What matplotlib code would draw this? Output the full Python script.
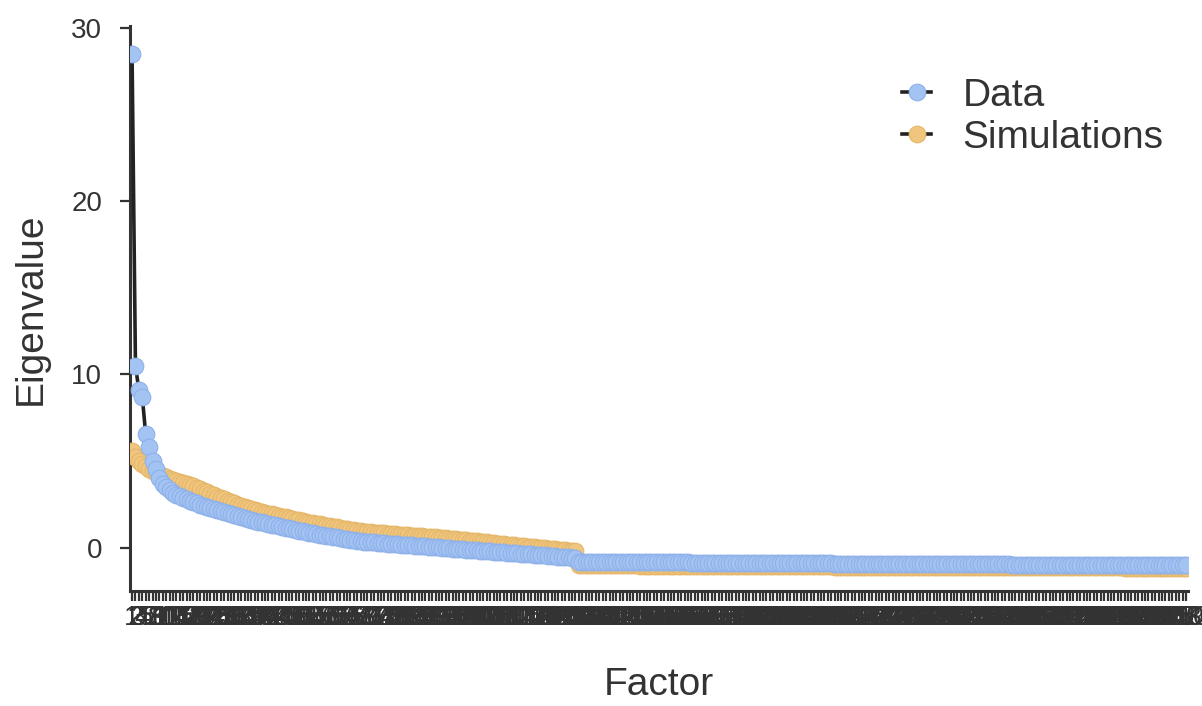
import matplotlib
matplotlib.use("Agg")
import matplotlib.pyplot as plt
from matplotlib.lines import Line2D

plt.rcParams['font.family'] = ['Liberation Sans', 'DejaVu Sans']

# Eigenvalues of the observed data (factors 1..310)
data_eigen = [
    28.5, 10.5, 9.1, 8.7, 6.55, 5.8, 5.0, 4.55, 4.0, 3.7,
    3.48, 3.32, 3.18, 3.06, 2.96, 2.87, 2.79, 2.71, 2.63, 2.56,
    2.49, 2.42, 2.36, 2.29, 2.23, 2.17, 2.11, 2.05, 1.99, 1.93,
    1.87, 1.82, 1.76, 1.71, 1.66, 1.61, 1.56,
    1.51, 1.46, 1.42, 1.37, 1.33, 1.28, 1.24, 1.19, 1.15, 1.11,
    1.07, 1.03, 0.99, 0.95, 0.91,
    0.87, 0.84, 0.80, 0.76, 0.73, 0.69, 0.66, 0.62, 0.59, 0.55,
    0.52, 0.49, 0.45, 0.42, 0.39,
    0.37, 0.35, 0.34, 0.32, 0.30, 0.29, 0.27, 0.25, 0.24, 0.22,
    0.21, 0.19, 0.18, 0.16, 0.15, 0.13, 0.12, 0.10, 0.09, 0.07,
    0.06, 0.04, 0.03, 0.01, 0.00, -0.02, -0.03,
    -0.05, -0.06, -0.08, -0.09, -0.11, -0.12, -0.14, -0.15, -0.17, -0.18,
    -0.20, -0.21, -0.23, -0.24, -0.26, -0.27, -0.29, -0.30, -0.32, -0.33,
    -0.35, -0.36, -0.38, -0.39, -0.41, -0.42, -0.44, -0.45, -0.47, -0.48,
    -0.50, -0.51, -0.53, -0.54, -0.56, -0.57, -0.59,
    -0.80, -0.80, -0.80, -0.81, -0.81, -0.81, -0.81, -0.81, -0.82, -0.82,
    -0.82, -0.82, -0.82, -0.82, -0.83, -0.83, -0.83, -0.83, -0.83, -0.83,
    -0.84, -0.84, -0.84, -0.84, -0.84, -0.84, -0.85, -0.85, -0.85, -0.85,
    -0.85, -0.85, -0.85, -0.86, -0.86, -0.86, -0.86, -0.86, -0.86, -0.86,
    -0.87, -0.87, -0.87, -0.87, -0.87, -0.87, -0.87, -0.88, -0.88, -0.88,
    -0.88, -0.88, -0.88, -0.88, -0.89, -0.89, -0.89, -0.89, -0.89, -0.89,
    -0.89, -0.90, -0.90, -0.90, -0.90, -0.90, -0.90, -0.90, -0.91, -0.91,
    -0.91, -0.91, -0.91, -0.91, -0.91, -0.92, -0.92, -0.92, -0.92, -0.92,
    -0.92, -0.92, -0.92, -0.93, -0.93, -0.93, -0.93, -0.93, -0.93, -0.93,
    -0.93, -0.94, -0.94, -0.94, -0.94, -0.94, -0.94, -0.94, -0.94, -0.95,
    -0.95, -0.95, -0.95, -0.95, -0.95, -0.95, -0.95, -0.95, -0.96, -0.96,
    -0.96, -0.96, -0.96, -0.96, -0.96, -0.96, -0.96, -0.97, -0.97, -0.97,
    -0.97, -0.97, -0.97, -0.97, -0.97, -0.97, -0.97, -0.98, -0.98, -0.98,
    -0.98, -0.98, -0.98, -0.98, -0.98, -0.98, -0.98, -0.98, -0.99, -0.99,
    -0.99, -0.99, -0.99, -0.99, -0.99, -0.99, -0.99, -0.99, -0.99, -0.99,
    -1.00, -1.00, -1.00, -1.00, -1.00, -1.00, -1.00, -1.00, -1.00, -1.00,
    -1.00, -1.00, -1.00, -1.00, -1.00, -1.00, -1.00, -1.00, -1.00, -1.00,
    -1.00, -1.00, -1.00, -1.00, -1.00, -1.00, -1.00, -1.00, -1.00,
]

# Mean eigenvalues of the simulated (parallel analysis) data
sim_eigen = [
    5.6, 5.25, 5.0, 4.85, 4.7, 4.55, 4.45, 4.35, 4.25, 4.15,
    4.07, 3.99, 3.92, 3.85, 3.78, 3.71, 3.65, 3.59, 3.53, 3.47,
    3.37, 3.28, 3.20, 3.11, 3.03, 2.95, 2.87, 2.79, 2.71, 2.63,
    2.55, 2.48, 2.41, 2.35, 2.29, 2.23, 2.17,
    2.11, 2.06, 2.02, 1.97, 1.93, 1.88, 1.84, 1.79, 1.75, 1.70,
    1.66, 1.62, 1.58, 1.54, 1.50,
    1.45, 1.42, 1.38, 1.34, 1.31, 1.27, 1.24, 1.20, 1.17, 1.13,
    1.10, 1.07, 1.03, 1.00, 0.97,
    0.94, 0.92, 0.91, 0.89, 0.87, 0.86, 0.84, 0.82, 0.81, 0.79,
    0.78, 0.76, 0.74, 0.72, 0.71, 0.69, 0.68, 0.66, 0.65, 0.63,
    0.62, 0.60, 0.59, 0.57, 0.56, 0.54, 0.52,
    0.50, 0.48, 0.46, 0.44, 0.42, 0.40, 0.38, 0.36, 0.34, 0.32,
    0.30, 0.28, 0.26, 0.24, 0.22, 0.20, 0.18, 0.16, 0.14, 0.12,
    0.10, 0.08, 0.06, 0.04, 0.02, 0.00, -0.02, -0.04, -0.06, -0.08,
    -0.10, -0.12, -0.14, -0.16, -0.18, -0.20, -0.22,
    -1.00, -1.00, -1.00, -1.01, -1.01, -1.01, -1.01, -1.01, -1.01, -1.01,
    -1.02, -1.02, -1.02, -1.02, -1.02, -1.02, -1.02, -1.02, -1.03, -1.03,
    -1.03, -1.03, -1.03, -1.03, -1.03, -1.03, -1.04, -1.04, -1.04, -1.04,
    -1.04, -1.04, -1.04, -1.04, -1.04, -1.05, -1.05, -1.05, -1.05, -1.05,
    -1.05, -1.05, -1.05, -1.05, -1.06, -1.06, -1.06, -1.06, -1.06, -1.06,
    -1.06, -1.06, -1.06, -1.06, -1.07, -1.07, -1.07, -1.07, -1.07, -1.07,
    -1.07, -1.07, -1.07, -1.07, -1.08, -1.08, -1.08, -1.08, -1.08, -1.08,
    -1.08, -1.08, -1.08, -1.08, -1.08, -1.09, -1.09, -1.09, -1.09, -1.09,
    -1.09, -1.09, -1.09, -1.09, -1.09, -1.09, -1.10, -1.10, -1.10, -1.10,
    -1.10, -1.10, -1.10, -1.10, -1.10, -1.10, -1.10, -1.10, -1.11, -1.11,
    -1.11, -1.11, -1.11, -1.11, -1.11, -1.11, -1.11, -1.11, -1.11, -1.11,
    -1.11, -1.12, -1.12, -1.12, -1.12, -1.12, -1.12, -1.12, -1.12, -1.12,
    -1.12, -1.12, -1.12, -1.12, -1.12, -1.13, -1.13, -1.13, -1.13, -1.13,
    -1.13, -1.13, -1.13, -1.13, -1.13, -1.13, -1.13, -1.13, -1.13, -1.13,
    -1.13, -1.14, -1.14, -1.14, -1.14, -1.14, -1.14, -1.14, -1.14, -1.14,
    -1.14, -1.14, -1.14, -1.14, -1.14, -1.14, -1.14, -1.14, -1.14, -1.14,
    -1.15, -1.15, -1.15, -1.15, -1.15, -1.15, -1.15, -1.15, -1.15, -1.15,
    -1.15, -1.15, -1.15, -1.15, -1.15, -1.15, -1.15, -1.15, -1.15,
]

factors = list(range(1, len(data_eigen) + 1))
factor_labels = [str(f) for f in factors]
y_ticks = [0, 10, 20, 30]

BLUE = '#A3C3F2'
BLUE_EDGE = '#8EB1EA'
ORANGE = '#F0C57E'
ORANGE_EDGE = '#E5B76A'
INK = '#333333'
MS = 12

fig = plt.figure(figsize=(12.02, 7.06), dpi=100)
ax = fig.add_axes([130 / 1202, 1 - 591 / 706, (1188 - 130) / 1202, (591 - 26) / 706])

ax.plot(factors, sim_eigen, color='black', lw=2.4, zorder=2)
ax.plot(factors, sim_eigen, ls='none', marker='o', ms=MS,
        mfc=ORANGE, mec=ORANGE_EDGE, mew=0.8, zorder=3)
ax.plot(factors, data_eigen, color='#222222', lw=2.6, zorder=4)
ax.plot(factors, data_eigen, ls='none', marker='o', ms=MS,
        mfc=BLUE, mec=BLUE_EDGE, mew=0.8, zorder=5)

ax.set_xlim(1 - 0.6, len(factors) + 0.6)
ax.set_ylim(-2.5, 30.1)
ax.set_yticks(y_ticks)
ax.set_yticklabels([str(v) for v in y_ticks])
ax.set_xticks(factors)
ax.set_xticklabels(factor_labels)

for side in ('top', 'right'):
    ax.spines[side].set_visible(False)
for side in ('left', 'bottom'):
    ax.spines[side].set_color(INK)
    ax.spines[side].set_linewidth(2.2)

ax.tick_params(axis='both', colors=INK, labelcolor=INK, width=1.6,
               length=7, labelsize=20)
ax.tick_params(axis='y', pad=13)
ax.tick_params(axis='x', pad=3)

ax.set_xlabel('Factor', fontsize=28, color=INK, labelpad=26)
ax.set_ylabel('Eigenvalue', fontsize=28, color=INK, labelpad=16)

handles = [
    Line2D([], [], color='#222222', lw=2.6, marker='o', ms=MS,
           mfc=BLUE, mec=BLUE_EDGE, mew=0.8),
    Line2D([], [], color='#222222', lw=2.6, marker='o', ms=MS,
           mfc=ORANGE, mec=ORANGE_EDGE, mew=0.8),
]
fig.legend(handles, ['Data', 'Simulations'], loc='upper left',
           bbox_to_anchor=(867 / 1202, 1 - 43 / 706), frameon=False,
           fontsize=28, handlelength=0.75, handletextpad=0.8,
           labelspacing=0.15, labelcolor=INK)

fig.savefig('out.png', dpi=100)
